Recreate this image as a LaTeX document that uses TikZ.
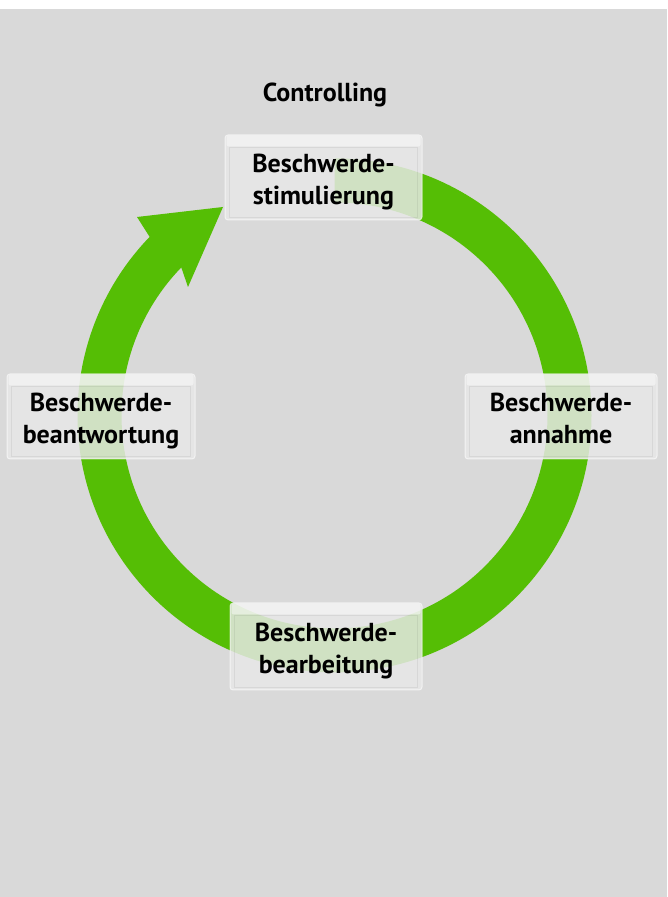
\documentclass[tikz,border=0pt]{standalone}
\usepackage{fontspec}
\setmainfont{PT Sans}
\definecolor{bg}{RGB}{217,217,217}
\definecolor{ringgreen}{RGB}{85,190,5}
\definecolor{glass}{RGB}{232,232,232}
\newcommand{\twolines}[2]{\raisebox{-5pt}[\height][\depth]{\begin{tabular}{@{}c@{}}#1\\#2\end{tabular}}}
\begin{document}
\begin{tikzpicture}[x=1pt,y=1pt,
  glassbox/.style={rectangle, rounded corners=3pt, fill=glass, fill opacity=0.84, text opacity=1,
    draw=white, draw opacity=0.6, line width=1pt,
    minimum height=85pt, inner sep=0pt,
    font=\fontsize{26}{32}\selectfont\bfseries},
  titletext/.style={font=\fontsize{26}{32}\selectfont\bfseries, inner sep=0pt}]
\useasboundingbox (0,0) rectangle (667,897);
\fill[bg] (0,0) rectangle (667,888);
\fill[white] (0,888) rectangle (667,897);
% ring with arrow
\begin{scope}[shift={(334.5,481.6)}]
\fill[ringgreen] (90:257) arc[start angle=90,end angle=-224,radius=257]
  -- (-197.5,198.4) -- (-111.5,208.4) -- (-146.5,128.4)
  -- (-224:213) arc[start angle=-224,end angle=90,radius=213] -- cycle;
\end{scope}
% title
\node[titletext] (ctrl) at (325,802) {Controlling};
% boxes
\node[glassbox, minimum width=197pt] (stim) at (323.5,719.5) {\twolines{Beschwerde-}{stimulierung}};
\node[glassbox, minimum width=188pt] (antw) at (101,480.5) {\twolines{Beschwerde-}{beantwortung}};
\node[glassbox, minimum width=192pt] (ann) at (561,480.5) {\twolines{Beschwerde-}{annahme}};
\node[glassbox, minimum width=192pt, minimum height=87pt] (bear) at (326,250.5) {\twolines{Beschwerde-}{bearbeitung}};
% glass highlights
\foreach \n in {stim,antw,ann,bear}{
  \fill[white, opacity=0.45, rounded corners=2pt] ([xshift=2pt,yshift=-1pt]\n.north west) rectangle ([xshift=-2pt,yshift=-12pt]\n.north east);
  \draw[black, opacity=0.06, line width=1pt] ([xshift=5pt,yshift=-13pt]\n.north west) rectangle ([xshift=-5pt,yshift=3pt]\n.south east);
}
\end{tikzpicture}
\end{document}
